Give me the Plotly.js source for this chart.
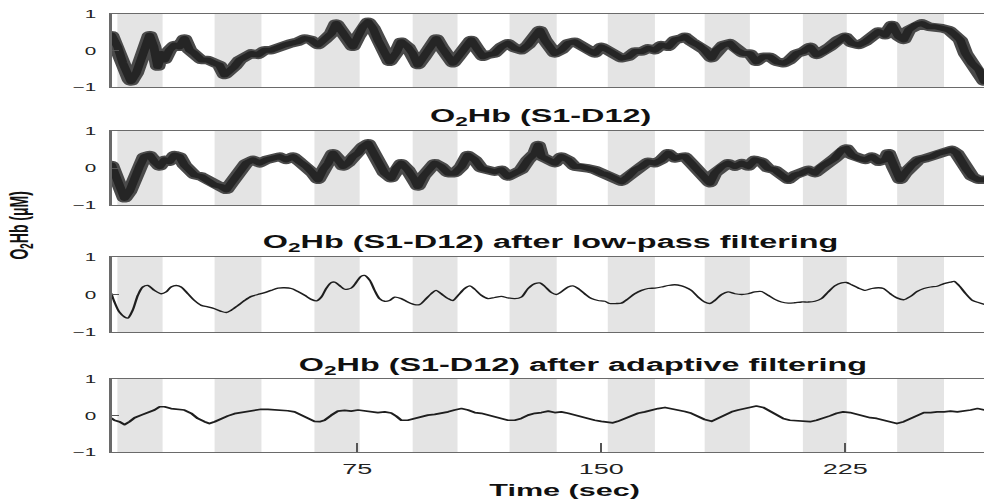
<!DOCTYPE html>
<html><head><meta charset="utf-8">
<script src="https://cdn.plot.ly/plotly-3.0.1.min.js"></script>
<style>
html,body{margin:0;padding:0;overflow:hidden;background:#fff;}
#wrap{width:984px;height:500px;overflow:hidden;}
#chart{width:547px;height:500px;transform:scaleX(1.7989);transform-origin:0 0;}
#chart path.js-line{stroke-linejoin:round;stroke-linecap:round;}
</style></head><body><div id="wrap"><div id="chart"></div></div>
<script>
// Stimulus blocks (sec)
const blockStart = [1.2, 31.1, 61.8, 92, 121.8, 152, 181.8, 212, 241];
const blockEnd   = [15.1, 45.5, 75.7, 105.8, 136.3, 166.5, 195.7, 225.5, 255.4];

// Raw O2Hb
const rawTime = [-0.6,1.3,2.9,4.9,5.4,7,8.5,10,11.1,12.4,13.6,14.7,15.7,17.2,18.8,20.3,21.8,23.4,24.9,27,29,31.1,32.6,34.2,35.7,37.2,38.8,40.3,42.4,44.4,46.5,48.5,50.6,52.6,54.7,56.7,58.8,60.8,62.9,64.9,67,68.5,70,72.1,73.6,75.2,76.7,78.3,79.8,81.3,83.4,84.9,87,88.5,90.5,92,93.6,95.2,96.7,98.3,99.3,100.8,102.9,104.4,106,108,110,112.1,113.6,115,117.2,119.3,121.3,123.4,125.4,127.5,129.6,131.1,132.6,134.2,135.7,137.7,139.8,141.8,143.9,145.9,148,150,152.1,154.2,156.2,158.3,160.3,162.4,164.4,166.5,168.5,170.6,172.6,174.7,175.7,177.7,179.8,181.8,183.9,185.4,187.5,189.5,191.6,193.6,195.7,197.7,199.8,201.8,203.9,206,208,210.1,212.1,214.2,216.2,218.3,220.3,222.9,225,227,229.1,231.2,233.2,235.3,237.3,239.4,241.4,243,244.5,246.6,248.6,250.7,252.8,254.8,256.9,258.9,260.4,262,264,266.1,267.8];
const rawO2Hb = [0.42,0.1,-0.35,-0.8,-0.85,-0.62,-0.17,0.2,0.42,0.1,-0.44,-0.08,-0.26,0.01,0.15,0.1,0.33,0.01,-0.08,-0.26,-0.26,-0.35,-0.4,-0.67,-0.58,-0.44,-0.26,-0.17,-0.08,-0.12,0.01,0.01,0.1,0.15,0.2,0.24,0.33,0.29,0.15,0.29,0.47,0.74,0.56,0.29,0.1,0.38,0.65,0.79,0.61,0.29,-0.08,-0.31,-0.05,0.24,0.1,-0.08,-0.4,-0.21,0.01,0.2,0.33,0.1,-0.17,-0.35,-0.17,0.1,0.29,0.01,-0.17,-0.12,-0.08,0.1,0.2,0.06,0.01,0.15,0.38,0.56,0.29,0.1,-0.08,0.01,0.2,0.24,0.1,0.01,-0.08,0.1,0.01,-0.12,-0.21,-0.17,-0.03,-0.03,0.06,0.01,0.15,0.1,0.29,0.33,0.38,0.24,0.15,0.01,-0.21,0.01,0.15,0.2,0.01,-0.08,-0.08,-0.31,-0.17,-0.17,-0.31,-0.35,-0.26,-0.08,-0.03,0.1,-0.12,-0.03,0.1,0.29,0.38,0.2,0.15,0.24,0.38,0.52,0.42,0.7,0.38,0.29,0.56,0.7,0.74,0.65,0.65,0.61,0.56,0.42,0.29,-0.08,-0.35,-0.53,-0.85];

// O2Hb (S1-D12)
const chTime = [-0.6,0.3,1.8,3.4,4.9,6.5,8,9.5,11.1,12.6,14.2,15.7,17.2,18.8,20.3,21.8,23.4,24.9,27,29,31.1,33.1,34.7,36.2,37.7,39.3,40.8,42.9,44.9,47,49,51.1,53.1,55.2,57.2,59.3,61.3,62.9,64.4,66,67.5,69,70.6,72.1,73.6,75.2,76.7,78.3,79.8,81.3,83.4,85.4,87,88.5,90.5,92.6,93.6,95.2,96.7,98.8,100.8,102.9,104.9,107,109,111.1,113.1,115.2,117.2,119.3,121.3,123.4,125.4,127.5,129.6,130.6,131.6,133.7,135.7,137.7,139.8,141.8,143.9,145.9,148,150,152.1,154.2,156.2,158.3,160.3,162.4,164.4,166.5,168.5,170.6,172.6,174.7,175.7,177.7,179.8,181.8,183.4,184.9,187,189,191.1,193.2,195.2,197.2,199.3,201.3,203.4,205.4,207.5,209.5,211.6,213.7,215.7,217.7,219.8,221.8,223.9,225.4,227,229.1,231.2,233.2,235.3,237.3,238.3,239.9,241.9,243.4,245.5,247.6,249.6,251.7,253.7,255.8,257.8,259.3,260.9,262.4,264,266.1,267.8];
const chO2Hb = [0.08,-0.14,-0.5,-0.82,-0.64,-0.23,0.04,0.31,0.35,0.17,0.04,0.22,0.17,0.35,0.31,0.08,-0.05,-0.19,-0.23,-0.32,-0.46,-0.5,-0.59,-0.41,-0.23,-0.1,0.13,0.22,0.13,0.22,0.26,0.31,0.22,0.31,0.17,0.04,-0.14,-0.32,-0.05,0.13,0.4,0.26,0.04,0.13,0.31,0.4,0.58,0.67,0.44,0.13,-0.14,-0.28,0,0.13,-0.05,-0.32,-0.5,-0.23,-0.05,0.13,0.04,-0.14,-0.14,0.04,0.35,0.22,-0.01,-0.05,-0.1,-0.05,-0.23,-0.14,-0.05,0.22,0.4,0.62,0.31,0.22,0.13,0.31,0.22,0.04,0.04,-0.01,-0.05,-0.14,-0.19,-0.28,-0.37,-0.23,-0.05,0.04,0.17,0.13,0.22,0.4,0.26,0.31,0.31,0.13,-0.05,-0.23,-0.41,-0.14,0.04,0.13,0.04,0.13,0.04,0.22,0.17,-0.01,-0.05,-0.19,-0.32,-0.19,-0.14,-0.05,-0.14,0.04,0.13,0.26,0.49,0.53,0.35,0.26,0.22,0.31,0.17,0.22,0.4,0.04,-0.32,-0.14,0.08,0.22,0.26,0.31,0.4,0.44,0.49,0.4,0.13,-0.05,-0.23,-0.32,-0.32];

// after low-pass filtering
const lpTime = [-0.6,0.3,1.8,3.4,4.4,5.9,7.5,9,10.6,12.6,14.7,16.2,17.7,19.3,20.8,22.9,24.9,27,29,31.1,33.1,34.7,36.2,38.3,40.3,42.4,44.4,46.5,48.5,50.6,52.6,54.7,56.7,58.8,60.8,62.4,63.9,65.4,67,68,69.5,71.1,73.1,74.7,76.2,77.2,78.8,80.3,81.8,83.4,84.9,86.5,88.5,90.5,92.6,94.1,95.6,97.7,99.2,100.8,102.9,104.4,106,108,109.6,111.1,113.1,115.2,117.2,119.3,121.3,123.4,125.4,127.5,129.6,131.1,132.6,134.7,136.2,137.7,139.8,141.3,142.9,144.9,147,149,151.1,152.6,154.7,156.2,158.3,160.3,162.4,164.4,166.5,168.5,170.6,172.6,174.7,175.7,177.7,179.8,181.8,183.4,184.9,187,189,191.1,193.2,195.2,197.2,199.3,201.3,203.4,205.4,207.5,209.5,211.6,213.7,215.7,217.7,219.8,221.8,223.9,225.4,227,229.1,231.2,233.2,235.3,236.8,238.9,240.9,243,245.1,247.1,249.2,251.3,253.3,255.4,257.4,258.5,260,262.1,264.2,266.2,268];
const lpO2Hb = [0.02,-0.2,-0.47,-0.6,-0.63,-0.42,-0.02,0.2,0.24,0.11,0.02,0.07,0.2,0.24,0.2,0.02,-0.16,-0.29,-0.33,-0.38,-0.45,-0.48,-0.42,-0.29,-0.16,-0.05,0,0.05,0.11,0.17,0.18,0.16,0.08,-0.02,-0.13,-0.17,-0.07,0.16,0.32,0.33,0.24,0.14,0.17,0.33,0.49,0.51,0.38,0.11,-0.11,-0.18,-0.16,-0.07,-0.11,-0.2,-0.27,-0.27,-0.16,0.02,0.11,0.02,-0.11,-0.16,-0.02,0.16,0.23,0.14,-0.02,-0.11,-0.08,-0.05,-0.09,-0.11,-0.07,0.16,0.29,0.31,0.22,0.05,0,0.07,0.2,0.23,0.16,0.02,-0.11,-0.16,-0.18,-0.24,-0.24,-0.23,-0.11,0.02,0.11,0.16,0.17,0.2,0.24,0.26,0.23,0.2,0.11,-0.07,-0.2,-0.24,-0.16,0,0.07,0.02,0,0.02,0.07,0.08,-0.02,-0.13,-0.2,-0.23,-0.22,-0.2,-0.2,-0.18,-0.11,0.07,0.23,0.31,0.32,0.26,0.17,0.11,0.16,0.18,0.16,0.02,-0.09,-0.14,-0.05,0.08,0.16,0.2,0.22,0.29,0.33,0.35,0.24,0.02,-0.16,-0.22,-0.27];

// after adaptive filtering
const adTime = [-0.6,0.3,1.8,3.4,4.9,6.5,8.5,10.6,12.6,14.2,15.7,17.7,19.8,21.8,23.9,25.9,28,29.5,31.1,33.1,35.2,37.2,39.3,41.3,43.4,45.4,47.5,49.5,51.6,53.6,55.7,57.7,59.8,61.8,63.4,64.9,67,69,71.1,73.1,75.2,77.2,79.3,81.3,83.4,85.4,87,88.5,90.5,92.6,94.6,96.7,98.8,100.8,102.9,104.9,107,109,111.1,113.1,115.2,117.2,119.3,121.3,123.4,125.4,127.5,129.6,131.6,133.7,135.7,137.7,139.8,141.8,143.9,145.9,148,150,152.1,153.6,155.1,157.2,159.3,161.3,163.4,165.4,167.5,169.6,171.6,173.7,175.7,177.7,179.8,181.8,183.9,185.9,188,190.1,192.1,194.2,196.2,197.7,199.8,201.8,203.9,205.9,208,210.1,212.1,214.2,216.2,218.3,220.3,222.4,224.4,226.5,228.6,230.6,232.7,234.7,236.8,238.9,240.9,243,245.1,247.1,249.2,251.3,253.3,255.4,257.4,259.5,261.5,263.6,265.7,268];
const adO2Hb = [-0.08,-0.13,-0.17,-0.25,-0.17,-0.06,0.01,0.08,0.15,0.24,0.24,0.19,0.17,0.15,0.06,-0.08,-0.17,-0.22,-0.17,-0.08,-0.01,0.05,0.08,0.12,0.15,0.17,0.17,0.16,0.15,0.13,0.1,0.01,-0.08,-0.16,-0.17,-0.13,0.01,0.12,0.14,0.12,0.15,0.12,0.1,0.08,0.1,0.07,-0.02,-0.13,-0.13,-0.08,-0.04,0.01,0.03,0.06,0.1,0.15,0.19,0.15,0.08,0.06,0.01,-0.05,-0.1,-0.13,-0.13,-0.08,0.01,0.06,0.08,0.12,0.08,0.1,0.06,0.01,-0.04,-0.08,-0.13,-0.16,-0.19,-0.2,-0.16,-0.08,-0.01,0.06,0.1,0.15,0.19,0.22,0.19,0.15,0.11,0.06,-0.04,-0.11,-0.16,-0.08,0.01,0.1,0.15,0.19,0.24,0.26,0.22,0.12,0.01,-0.08,-0.13,-0.15,-0.16,-0.17,-0.13,-0.08,-0.01,0.06,0.1,0.08,0.03,-0.01,-0.06,-0.08,-0.13,-0.17,-0.22,-0.17,-0.08,0.01,0.08,0.08,0.1,0.1,0.12,0.1,0.12,0.15,0.19,0.15];

const xTicks = [75, 150, 225];
const yTicks = [-1, 0, 1];
const panelTitles = ['O<sub>2</sub>Hb (S1-D12)', 'O<sub>2</sub>Hb (S1-D12) after low-pass filtering', 'O<sub>2</sub>Hb (S1-D12) after adaptive filtering'];
const xTitle = 'Time (sec)';
const yTitle = 'O<sub>2</sub>Hb (μM)';

const FONT = 'Liberation Sans, Arial, sans-serif';
const xRange = [-0.6, 267.7];
const domains = [[0.826, 0.972], [0.59, 0.738], [0.336, 0.486], [0.096, 0.242]];
const series = [[rawTime, rawO2Hb, true], [chTime, chO2Hb, true], [lpTime, lpO2Hb, false], [adTime, adO2Hb, false]];

const data = [];
const layout = {
  width: 547, height: 500,
  margin: {l: 62, r: 0, t: 0, b: 0},
  paper_bgcolor: '#fff', plot_bgcolor: '#fff',
  showlegend: false,
  shapes: [], annotations: []
};
series.forEach((s, k) => {
  const sfx = k === 0 ? '' : String(k + 1);
  const ax = {xaxis: 'x' + sfx, yaxis: 'y' + sfx, type: 'scatter', mode: 'lines', hoverinfo: 'skip'};
  if (s[2]) {
    data.push(Object.assign({x: s[0], y: s[1], line: {color: '#4a4a4a', width: 8.5}}, ax));
    data.push(Object.assign({x: s[0], y: s[1], line: {color: '#252525', width: 5}}, ax));
  } else if (k === 2) {
    data.push(Object.assign({x: s[0], y: s[1], line: {color: '#1e1e1e', width: 1.3, shape: 'spline', smoothing: 0.8}}, ax));
  } else {
    data.push(Object.assign({x: s[0], y: s[1], line: {color: '#1e1e1e', width: 1.7}}, ax));
  }
  const last = k === 3;
  layout['xaxis' + sfx] = {
    domain: [0, 1], anchor: 'y' + sfx, range: xRange, showgrid: false, zeroline: false,
    showline: true, mirror: true, linecolor: '#6a6a6a', linewidth: 1.2,
    ticks: last ? 'inside' : '', ticklen: 9, tickwidth: 1, tickcolor: '#555',
    tickvals: last ? xTicks : [], showticklabels: last, ticklabelstandoff: 3,
    tickfont: {family: FONT, size: 15, color: '#222'}
  };
  layout['yaxis' + sfx] = {
    domain: domains[k], anchor: 'x' + sfx, range: [-1, 1], showgrid: false, zeroline: false,
    showline: true, mirror: false, linecolor: '#6a6a6a', linewidth: 1.2,
    ticks: 'inside', ticklen: 4, tickwidth: 1, tickcolor: '#555', tickvals: yTicks,
    ticklabelstandoff: 5, tickfont: {family: FONT, size: 11.5, color: '#222'}
  };
  blockStart.forEach((b, i) => {
    layout.shapes.push({type: 'rect', xref: 'x' + sfx, yref: 'y' + sfx + ' domain', x0: b, x1: blockEnd[i], y0: 0, y1: 1,
      fillcolor: '#e4e4e4', line: {width: 0}, layer: 'below'});
  });
});
const titlePos = [[0.491, 0.766], [0.503, 0.514], [0.540, 0.268]];
panelTitles.forEach((t, i) => {
  layout.annotations.push({text: '<b>' + t + '</b>', xref: 'paper', yref: 'paper', x: titlePos[i][0], y: titlePos[i][1],
    xanchor: 'center', yanchor: 'middle', showarrow: false, font: {family: FONT, size: 18, color: '#111'}});
});
layout.annotations.push({text: '<b>' + xTitle + '</b>', xref: 'paper', yref: 'paper', x: 0.519, y: 0.02,
  xanchor: 'center', yanchor: 'middle', showarrow: false, font: {family: FONT, size: 17, color: '#111'}});
layout.annotations.push({text: '<b>' + yTitle + '</b>', xref: 'paper', yref: 'paper', x: -0.104, y: 0.548, textangle: -90,
  xanchor: 'center', yanchor: 'middle', showarrow: false, font: {family: FONT, size: 14, color: '#111'}});

Plotly.newPlot('chart', data, layout, {staticPlot: true, displayModeBar: false});
</script></body></html>
